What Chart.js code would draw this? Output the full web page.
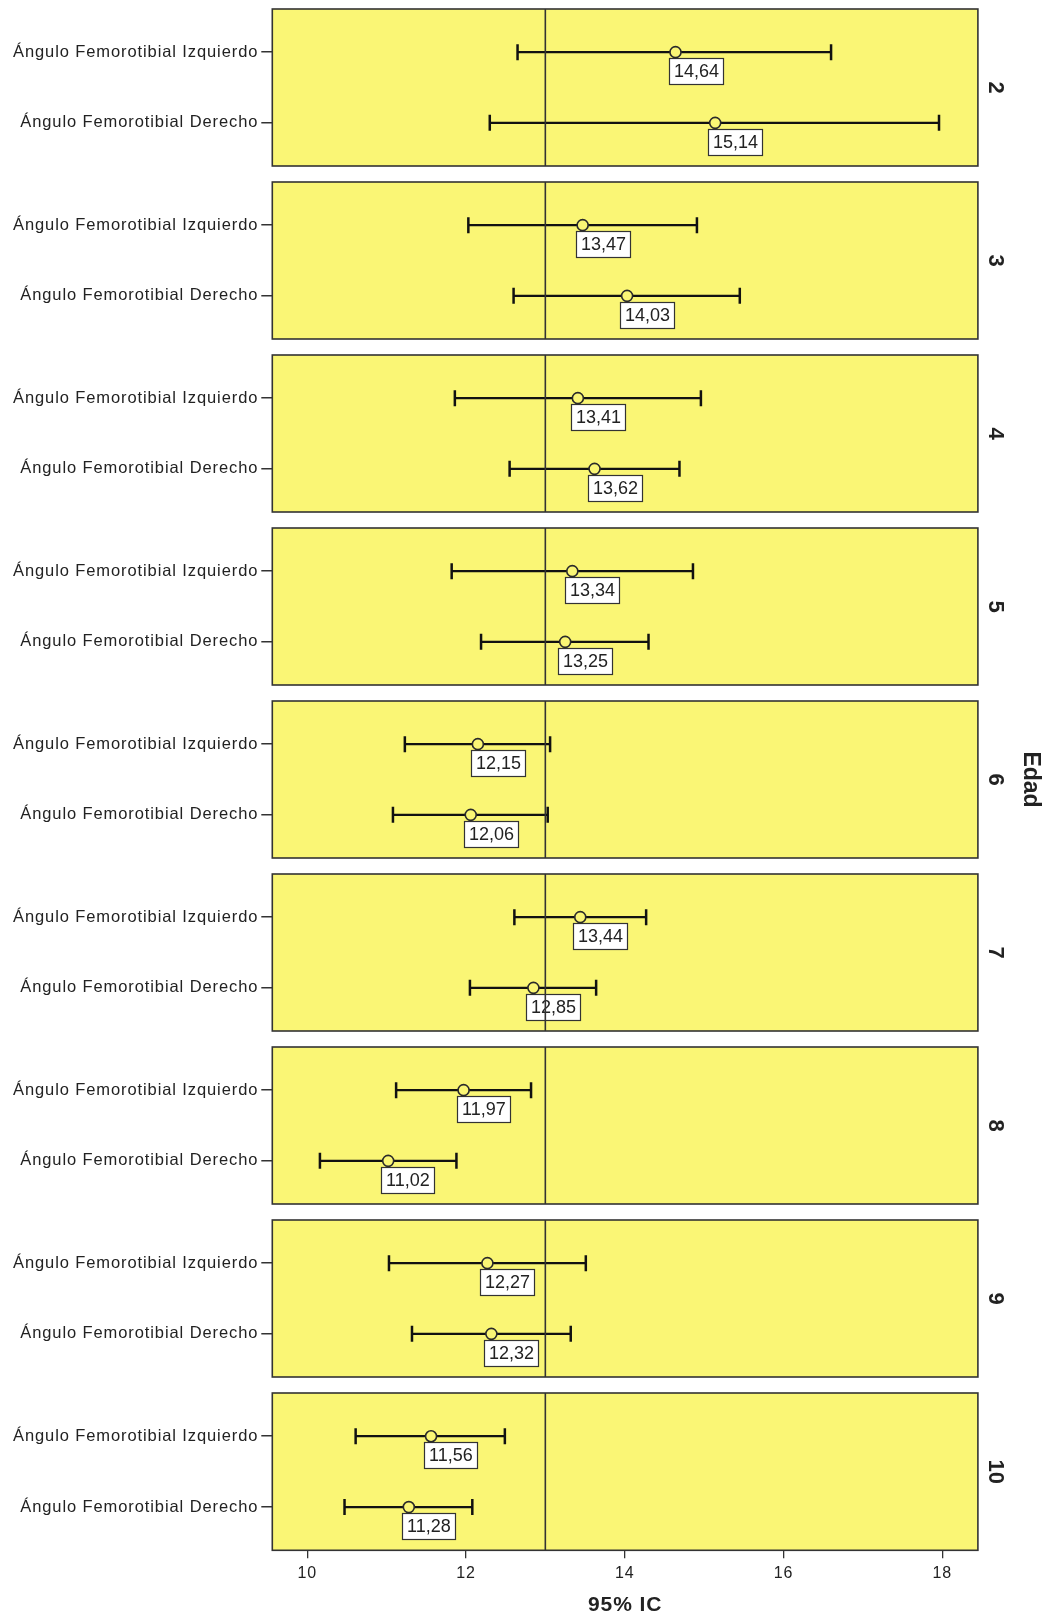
<!DOCTYPE html>
<html>
<head>
<meta charset="utf-8">
<script src="https://cdn.jsdelivr.net/npm/chart.js@4.4.1/dist/chart.umd.min.js"></script>
<style>
  html, body { margin: 0; padding: 0; background: #fff; }
  #wrap { position: relative; width: 1047px; height: 1617px; overflow: hidden; }
  #wrap canvas { position: absolute; left: 0; }
</style>
</head>
<body>
<div id="wrap"></div>
<script>
// Edad groups, one panel each
const groups = ['2', '3', '4', '5', '6', '7', '8', '9', '10'];
const rowLabels = ['Ángulo Femorotibial Izquierdo', 'Ángulo Femorotibial Derecho'];

// left angle: mean and 95% CI
const izqMean = [14.64, 13.47, 13.41, 13.34, 12.15, 13.44, 11.97, 12.27, 11.56];
const izqLow  = [12.65, 12.03, 11.86, 11.82, 11.23, 12.61, 11.12, 11.03, 10.61];
const izqHigh = [16.60, 14.91, 14.96, 14.86, 13.06, 14.27, 12.82, 13.51, 12.49];

// right angle: mean and 95% CI
const derMean = [15.14, 14.03, 13.62, 13.25, 12.06, 12.85, 11.02, 12.32, 11.28];
const derLow  = [12.30, 12.60, 12.55, 12.19, 11.08, 12.05, 10.16, 11.32, 10.47];
const derHigh = [17.96, 15.45, 14.69, 14.30, 13.03, 13.64, 11.88, 13.32, 12.08];

const xTicks = [10, 12, 14, 16, 18];
const refValue = 13;

const PANEL_BG = '#FAF675';
const INK = '#222';
const W = 1047, H = 1617;
const panelLeft = 272.3, panelRight = 977.9;
const panelTop0 = 9.3, panelPitch = 172.9, panelH = 156.8;
const pad = 3;

Chart.defaults.font.family = '"Liberation Sans", Arial, sans-serif';
Chart.defaults.color = INK;

const fmt = v => v.toFixed(2).replace('.', ',');

const noScalePadding = s => {
  s.paddingTop = 0; s.paddingBottom = 0;
  s.paddingLeft = 0; s.paddingRight = 0;
};

const panelPlugin = {
  id: 'panel',
  beforeDraw(chart) {
    const { ctx, chartArea: a } = chart;
    // loose tracking for the axis text
    ctx.letterSpacing = '0.9px';
    ctx.save();
    ctx.fillStyle = PANEL_BG;
    ctx.fillRect(a.left, a.top, a.right - a.left, a.bottom - a.top);
    ctx.restore();
  },
  beforeDatasetsDraw(chart) {
    const { ctx } = chart;
    // value boxes under each mean marker (the reference line is drawn over them)
    const meta = chart.getDatasetMeta(0);
    ctx.save();
    ctx.letterSpacing = '0px';
    ctx.font = '18px "Liberation Sans", Arial, sans-serif';
    ctx.textBaseline = 'middle';
    ctx.textAlign = 'left';
    meta.data.forEach((pt, j) => {
      const txt = fmt(chart.data.datasets[0].data[j].x);
      const tw = ctx.measureText(txt).width;
      const bx = Math.round(pt.x - 7) + 0.5, by = Math.round(pt.y + 6) + 0.5;
      const bw = Math.round(tw + 9), bh = 26;
      ctx.fillStyle = '#fff';
      ctx.fillRect(bx, by, bw, bh);
      ctx.strokeStyle = '#333';
      ctx.lineWidth = 1.2;
      ctx.strokeRect(bx, by, bw, bh);
      ctx.fillStyle = INK;
      ctx.fillText(txt, bx + 4.5, by + bh / 2 + 1);
    });
    ctx.restore();
  },
  afterDatasetsDraw(chart, args, opts) {
    const { ctx, chartArea: a } = chart;
    ctx.save();
    // panel frame
    ctx.strokeStyle = '#333';
    ctx.lineWidth = 1.6;
    ctx.strokeRect(a.left, a.top, a.right - a.left, a.bottom - a.top);
    // group number on the right, rotated
    ctx.letterSpacing = '0px';
    ctx.fillStyle = INK;
    ctx.font = 'bold 22px "Liberation Sans", Arial, sans-serif';
    ctx.textAlign = 'center';
    ctx.textBaseline = 'middle';
    ctx.translate(a.right + 17, (a.top + a.bottom) / 2);
    ctx.rotate(Math.PI / 2);
    ctx.fillText(opts.group, 0, 0);
    if (opts.showTitle) {
      ctx.font = 'bold 23px "Liberation Sans", Arial, sans-serif';
      ctx.fillText('Edad', 0, -(1030.5 - a.right - 17));
    }
    ctx.restore();
  },
  afterDraw(chart) {
    chart.ctx.letterSpacing = '0px';
  }
};

const wrap = document.getElementById('wrap');

groups.forEach((g, i) => {
  const isLast = i === groups.length - 1;
  const top = panelTop0 + i * panelPitch - pad;
  const height = isLast ? H - top : panelH + 2 * pad;

  const canvas = document.createElement('canvas');
  canvas.width = W;
  canvas.height = Math.round(height);
  canvas.style.top = top + 'px';
  wrap.appendChild(canvas);

  const bar = (lo, hi, row) => ({
    type: 'line',
    data: [{ x: lo, y: row }, { x: hi, y: row }],
    borderColor: '#111',
    borderWidth: 2.3,
    pointStyle: 'line',
    pointRotation: 90,
    pointRadius: 8,
    pointBorderWidth: 2.5,
    pointBorderColor: '#111',
    order: 1
  });

  new Chart(canvas.getContext('2d'), {
    type: 'scatter',
    data: {
      datasets: [
        {
          data: [{ x: izqMean[i], y: 0 }, { x: derMean[i], y: 1 }],
          pointRadius: 5.5,
          pointBorderWidth: 1.6,
          pointBorderColor: '#2a2a2a',
          pointBackgroundColor: PANEL_BG,
          order: 0
        },
        bar(izqLow[i], izqHigh[i], 0),
        bar(derLow[i], derHigh[i], 1),
        {
          type: 'line',
          data: [{ x: refValue, y: -0.61 }, { x: refValue, y: 1.61 }],
          borderColor: '#333',
          borderWidth: 1.6,
          pointRadius: 0,
          order: -1
        }
      ]
    },
    options: {
      responsive: false,
      animation: false,
      events: [],
      devicePixelRatio: 1,
      layout: { autoPadding: false, padding: { left: 0, right: W - panelRight, top: pad, bottom: isLast ? 0 : pad } },
      plugins: {
        legend: { display: false },
        tooltip: { enabled: false },
        panel: { group: g, showTitle: i === 4 }
      },
      scales: {
        x: {
          type: 'linear',
          min: 9.56,
          max: 18.45,
          display: isLast,
          afterBuildTicks: s => { s.ticks = xTicks.map(v => ({ value: v })); },
          afterFit: s => {
            s.height = isLast ? H - (panelTop0 + i * panelPitch + panelH) : 0;
            noScalePadding(s);
          },
          grid: { drawOnChartArea: false, drawTicks: true, tickLength: 8, color: '#333', lineWidth: 1.3 },
          border: { display: false },
          ticks: { font: { size: 16 }, color: INK, padding: 6 },
          title: { display: true, text: '95% IC', font: { size: 21, weight: 'bold' }, color: INK, padding: { top: 0, bottom: 0 } }
        },
        y: {
          type: 'linear',
          reverse: true,
          min: -0.61,
          max: 1.61,
          afterBuildTicks: s => { s.ticks = [{ value: 0 }, { value: 1 }]; },
          afterFit: s => {
            s.width = panelLeft;
            noScalePadding(s);
          },
          grid: { drawOnChartArea: false, drawTicks: true, tickLength: 11, color: '#333', lineWidth: 1.5 },
          border: { display: false },
          ticks: { font: { size: 16.5 }, color: INK, padding: 3, callback: v => rowLabels[v] }
        }
      }
    },
    plugins: [panelPlugin]
  });
});
</script>
</body>
</html>
